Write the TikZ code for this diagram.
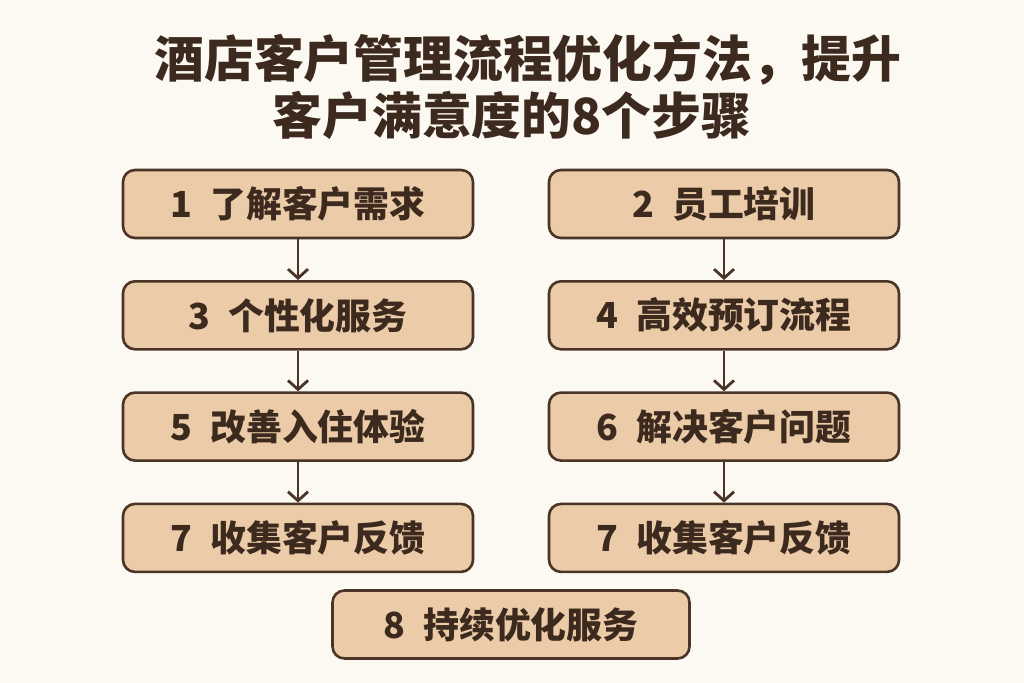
\documentclass[tikz,border=0pt]{standalone}
\usepackage{fontspec}
\newfontfamily\cjk{Noto Sans CJK SC}
\usetikzlibrary{positioning, calc, arrows.meta}
\definecolor{bgcream}{HTML}{FCF8F2}
\definecolor{stepfill}{HTML}{EBCBA8}
\definecolor{stepline}{HTML}{4A3426}
\definecolor{steptext}{HTML}{3D2A1F}

\begin{document}
\begin{tikzpicture}[x=1bp, y=-1bp,
    stepbox/.style={draw=stepline, line width=2.6bp, fill=stepfill, rounded corners=12bp,
        minimum width=350bp, minimum height=68bp, text=steptext,
        font=\cjk\bfseries\fontsize{36}{40}\selectfont},
    myarrow/.style={draw=stepline, line width=2.8bp, -{Straight Barb[length=9bp, width=20bp]}},
    titletext/.style={text=steptext, font=\cjk\bfseries\fontsize{50}{56}\selectfont},
    node distance=40.7bp and 73.4bp]

\fill[bgcream] (0,0) rectangle (1024,683);
\useasboundingbox (0,0) rectangle (1024,683);

\node[titletext] (title1) at (528,60) {酒店客户管理流程优化方法，提升};
\node[titletext] (title2) at (512,115) {客户满意度的8个步骤};

\node[stepbox] (s1) at (298,204) {1\enskip 了解客户需求};
\node[stepbox, right=of s1] (s2) {2\enskip 员工培训};
\node[stepbox, below=of s1] (s3) {3\enskip 个性化服务};
\node[stepbox, below=of s2] (s4) {4\enskip 高效预订流程};
\node[stepbox, below=of s3] (s5) {5\enskip 改善入住体验};
\node[stepbox, below=of s4] (s6) {6\enskip 解决客户问题};
\node[stepbox, below=of s5] (s7a) {7\enskip 收集客户反馈};
\node[stepbox, below=of s6] (s7b) {7\enskip 收集客户反馈};
\node[stepbox, minimum width=357bp, below=16bp of {$(s7a.south)!0.5!(s7b.south)$}] (s8) {8\enskip 持续优化服务};

\draw[myarrow] (s1) -- (s3);
\draw[myarrow] (s3) -- (s5);
\draw[myarrow] (s5) -- (s7a);
\draw[myarrow] (s2) -- (s4);
\draw[myarrow] (s4) -- (s6);
\draw[myarrow] (s6) -- (s7b);
\end{tikzpicture}
\end{document}
